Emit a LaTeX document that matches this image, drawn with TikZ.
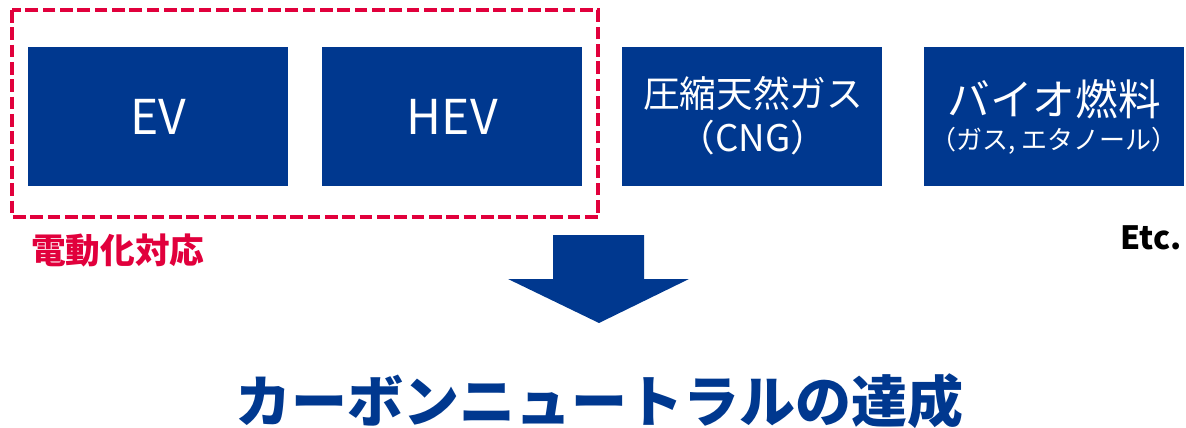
\documentclass[tikz,border=0pt]{standalone}
\usepackage{fontspec}
\setmainfont{Noto Sans CJK JP}
\definecolor{boxblue}{RGB}{0,56,143}
\definecolor{dashred}{RGB}{225,0,60}
\begin{document}
\begin{tikzpicture}[x=0.75pt,y=-0.75pt,
  fuelbox/.style={draw=none,fill=boxblue,text=white,minimum width=195pt,minimum height=104pt,inner sep=0pt,align=center,anchor=north west},
  boxtext/.style={text=white,inner sep=0pt},
  groupbox/.style={draw=dashred,line width=2.8pt,dash pattern=on 9.5pt off 3.5pt},
]
\useasboundingbox (0,0) rectangle (1186,428);
\node[fuelbox] (ev) at (28,47) {\fontsize{36}{40}\selectfont EV};
\node[fuelbox] (hev) at (322,47) {\fontsize{36}{40}\selectfont HEV};
\node[fuelbox] (cng) at (622,47) {};
\node[fuelbox] (bio) at (924,47) {};
\node[boxtext,font=\fontsize{27.5}{32}\selectfont] (cng1) at (753,93) {圧縮天然ガス};
\node[boxtext,font=\fontsize{27.5}{32}\selectfont] (cng2) at (753,138) {（CNG）};
\node[boxtext,font=\fontsize{32}{36}\selectfont] (bio1) at (1054,99) {バイオ燃料};
\node[boxtext,font=\fontsize{19.5}{24}\selectfont] (bio2) at (1054,141) {（ガス, エタノール）};
\draw[groupbox] (12,10) rectangle (598,217);
\node[anchor=west,text=dashred,font=\bfseries\fontsize{26}{30}\selectfont,inner sep=0pt] (lbl) at (31,250) {電動化対応};
\node[anchor=east,font=\bfseries\fontsize{24}{28}\selectfont,inner sep=0pt] (etc) at (1182,238) {Etc.};
\fill[boxblue] (553,235) -- (644,235) -- (644,279) -- (689,279) -- (599,323) -- (508,279) -- (553,279) -- cycle;
\node[text=boxblue,font=\bfseries\fontsize{42}{48}\selectfont,inner sep=0pt] (goal) at (599,401) {カーボンニュートラルの達成};
\end{tikzpicture}
\end{document}
